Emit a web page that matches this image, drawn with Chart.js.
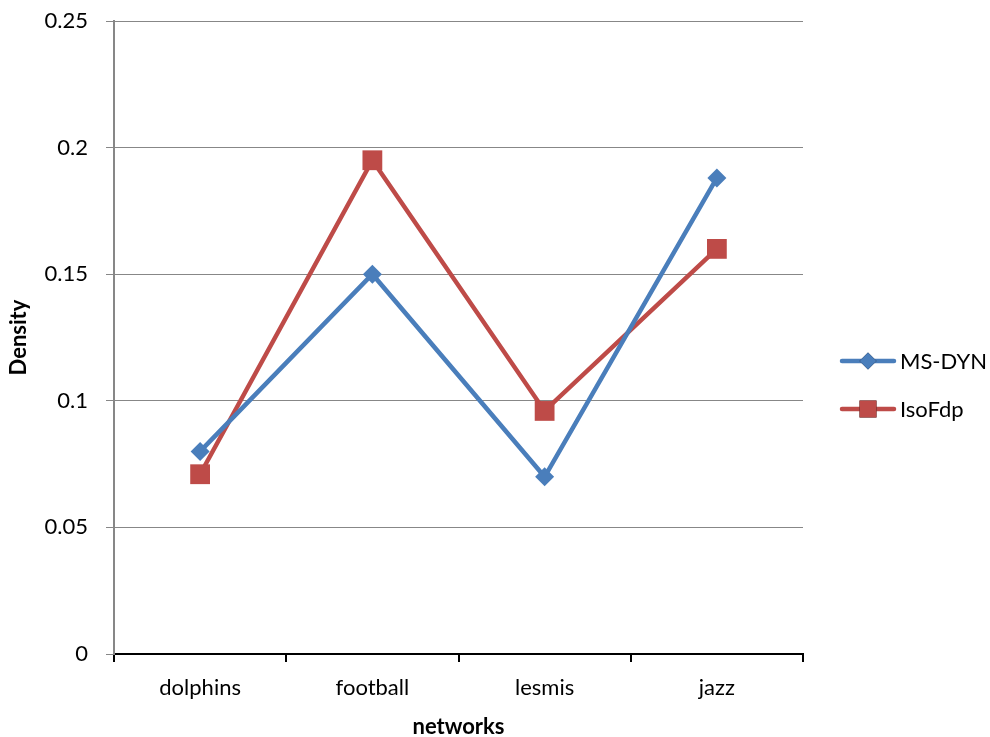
<!DOCTYPE html>
<html>
<head>
<meta charset="utf-8">
<script src="https://cdn.jsdelivr.net/npm/chart.js@4/dist/chart.umd.min.js"></script>
<style>
  html, body { margin: 0; padding: 0; background: #fff; }
  #wrap { width: 990px; height: 737px; position: relative; }
</style>
</head>
<body>
<div id="wrap"><canvas id="c" width="990" height="737"></canvas></div>
<script>
// Network names along the x axis
const networks = ['dolphins', 'football', 'lesmis', 'jazz'];
// Density of each layout method per network
const msDyn = [0.08, 0.15, 0.07, 0.188];
const isoFdp = [0.071, 0.195, 0.096, 0.16];
// Value axis ticks
const densityTicks = [0, 0.05, 0.1, 0.15, 0.2, 0.25];

const FONT = 'Lato, "Open Sans", sans-serif';
const FSIZE = 22;
const BLUE = '#4A7EBB';
const RED = '#BE4B48';
const GRID = '#878787';

// Legend on the right: a short line with the series marker, then the name
const sideLegend = {
  id: 'sideLegend',
  afterDraw(chart) {
    const ctx = chart.ctx;
    const rows = [361, 409];
    chart.data.datasets.forEach((ds, i) => {
      const y = rows[i];
      ctx.save();
      ctx.strokeStyle = ds.borderColor;
      ctx.lineWidth = 4.5;
      ctx.lineCap = 'round';
      ctx.beginPath();
      ctx.moveTo(842, y);
      ctx.lineTo(894, y);
      ctx.stroke();
      Chart.helpers.drawPoint(ctx, {
        pointStyle: ds.pointStyle,
        radius: ds.pointStyle === 'rect' ? 12 : 8.5,
        borderWidth: 0
      }, 868, y);
      ctx.fillStyle = ds.pointBackgroundColor;
      ctx.fill();
      ctx.fillStyle = '#000';
      ctx.font = FSIZE + 'px ' + FONT;
      ctx.textBaseline = 'middle';
      ctx.textAlign = 'left';
      ctx.fillText(ds.label, 900, y + 1);
      ctx.restore();
    });
  }
};

new Chart(document.getElementById('c'), {
  type: 'line',
  data: {
    labels: networks,
    datasets: [
      {
        label: 'MS-DYN',
        data: msDyn,
        borderColor: BLUE,
        backgroundColor: BLUE,
        pointBackgroundColor: BLUE,
        pointBorderColor: BLUE,
        pointStyle: 'rectRot',
        pointRadius: 9.5,
        pointBorderWidth: 0,
        borderWidth: 4.5,
        tension: 0
      },
      {
        label: 'IsoFdp',
        data: isoFdp,
        borderColor: RED,
        backgroundColor: RED,
        pointBackgroundColor: RED,
        pointBorderColor: RED,
        pointStyle: 'rect',
        pointRadius: 14,
        pointBorderWidth: 0,
        borderWidth: 4.5,
        tension: 0
      }
    ]
  },
  options: {
    responsive: false,
    animation: false,
    devicePixelRatio: 1,
    layout: { padding: { top: 21, right: 187, bottom: 0, left: 0 } },
    plugins: {
      legend: { display: false },
      tooltip: { enabled: false }
    },
    scales: {
      x: {
        type: 'category',
        offset: true,
        grid: {
          offset: true,
          drawOnChartArea: false,
          drawTicks: true,
          tickLength: 8,
          color: '#000',
          lineWidth: 2
        },
        border: { display: true, color: '#000', width: 2 },
        ticks: {
          color: '#000',
          font: { family: FONT, size: FSIZE },
          padding: 13,
          maxRotation: 0
        },
        title: {
          display: true,
          text: 'networks',
          color: '#000',
          font: { family: FONT, size: FSIZE, weight: 'bold' },
          padding: { top: 13, bottom: -3 }
        },
        afterFit(scale) { scale.height = 83; }
      },
      y: {
        min: 0,
        max: 0.25,
        afterBuildTicks(scale) {
          scale.ticks = densityTicks.map(v => ({ value: v }));
        },
        grid: {
          color: GRID,
          lineWidth: 1,
          drawTicks: true,
          tickLength: 8
        },
        border: { display: true, color: GRID, width: 2 },
        ticks: {
          color: '#000',
          font: { family: FONT, size: FSIZE },
          padding: 18,
          callback: v => String(v)
        },
        title: {
          display: true,
          text: 'Density',
          color: '#000',
          font: { family: FONT, size: FSIZE, weight: 'bold' },
          padding: { top: 6, bottom: 0 }
        },
        afterFit(scale) {
          scale.width = 114;
          scale.paddingTop = 0;
          scale.paddingBottom = 0;
        }
      }
    }
  },
  plugins: [sideLegend]
});
</script>
</body>
</html>
